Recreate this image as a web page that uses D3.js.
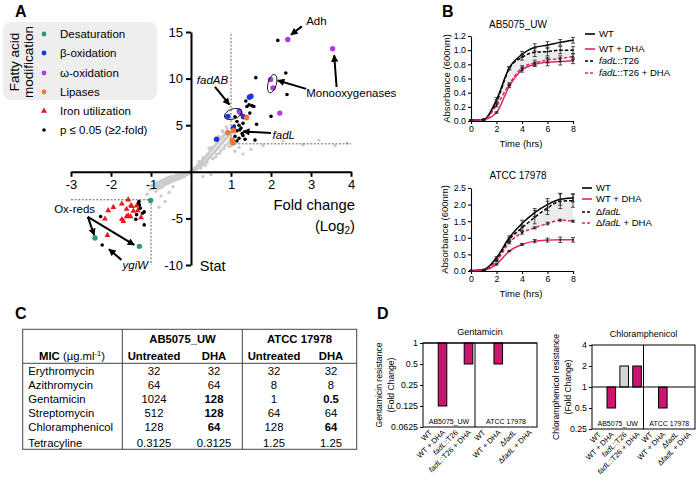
<!DOCTYPE html>
<html><head><meta charset="utf-8">
<script src="https://cdn.jsdelivr.net/npm/d3@7"></script>
<style>body{margin:0;background:#fff}svg{font-family:Arial,"Liberation Sans",sans-serif}</style>
</head><body><svg id="c" width="696" height="483"></svg>
<script>
// ================= Panel A data =================
const grayPts = [[-1.02,-1.9],[-0.98,-1.5],[-0.95,-1.8],[-0.93,-1.3],[-0.9,-1.6],[-0.88,-2.1],[-0.86,-1.2],[-0.84,-1.5],[-0.82,-1.8],[-0.8,-1.1],[-0.78,-1.4],[-0.76,-1.7],[-0.75,-1.0],[-0.73,-1.3],[-0.71,-1.6],[-0.7,-0.9],[-0.68,-1.2],[-0.66,-1.4],[-0.65,-0.8],[-0.63,-1.1],[-0.61,-1.3],[-0.6,-0.7],[-0.58,-1.0],[-0.56,-1.2],[-0.55,-0.6],[-0.53,-0.9],[-0.51,-1.1],[-0.5,-0.5],[-0.48,-0.8],[-0.46,-1.0],[-0.44,-0.5],[-0.42,-0.7],[-0.4,-0.9],[-0.38,-0.4],[-0.36,-0.6],[-0.34,-0.8],[-0.32,-0.3],[-0.3,-0.5],[-0.28,-0.7],[-0.26,-0.3],[-0.24,-0.45],[-0.22,-0.6],[-0.2,-0.2],[-0.18,-0.35],[-0.16,-0.5],[-0.14,-0.15],[-0.12,-0.3],[-0.1,-0.1],[-0.08,-0.25],[-0.06,-0.05],[-0.04,-0.15],[-0.02,0.0],
[-0.75,-2.6],[-0.65,-3.2],[-0.8,-3.8],[-0.55,-2.2],[-1.1,-2.4],[-0.45,-1.6],
[0.02,0.05],[0.04,0.2],[0.06,0.1],[0.08,0.35],[0.1,0.2],[0.12,0.5],[0.14,0.3],[0.16,0.65],[0.18,0.4],[0.2,0.8],[0.22,0.55],[0.24,1.0],[0.26,0.7],[0.28,1.2],[0.3,0.85],[0.32,1.4],[0.34,1.0],[0.36,1.6],[0.38,1.2],[0.4,1.8],[0.42,1.35],[0.44,2.0],[0.46,1.5],[0.48,2.2],[0.5,1.7],[0.52,2.4],[0.54,1.9],[0.56,2.6],[0.58,2.1],[0.6,2.8],[0.62,2.3],[0.64,3.0],[0.66,2.5],[0.68,3.2],[0.7,2.7],[0.72,3.4],[0.74,2.9],[0.76,3.6],[0.78,3.1],[0.8,3.8],[0.82,3.3],[0.84,4.0],[0.86,3.5],[0.88,4.2],[0.9,3.7],[0.92,4.4],[0.94,3.9],[0.96,3.2],[0.98,4.1],[1.0,3.6],[1.02,4.3],[0.3,1.5],[0.4,1.0],[0.5,2.6],[0.55,1.4],[0.6,3.4],[0.65,1.9],[0.7,3.8],[0.75,2.3],[0.8,4.3],[0.85,2.8],[0.9,4.6],[0.95,2.7],[0.2,1.1],[0.25,0.4],[0.35,0.7],[0.45,2.5],[0.62,1.6],[0.72,2.0],[0.82,2.5],[0.92,3.0],[1.0,2.8],[0.88,4.8],[0.78,4.4],
[1.2,2.6],[1.5,2.4],[1.8,2.8],[2.3,3.3],[2.8,2.9],[3.2,3.4],[3.6,2.8],[3.9,3.1],[1.1,2.2],[0.5,-0.3],[0.3,-0.5],[1.3,1.9]];
const sigPts = [[2.17,14.1],[2.37,10.6],[1.62,10.1],[2.4,8.3],[2.0,5.95],[1.64,5.1],[1.6,3.4],[1.37,7.6],[1.45,7.2],[1.52,7.1],[1.57,7.0],[1.4,7.0],[1.47,6.3],[1.4,5.9],[1.25,6.2],[1.1,5.9],[1.15,5.4],[1.3,5.2],[1.2,5.0],[1.25,4.7],[1.15,4.4],[1.28,4.1],[1.1,3.8],[1.2,3.6],[1.05,3.4],[1.15,3.3],[1.3,3.9],[1.35,3.5],[1.08,4.9],[1.22,4.5],
[-2.22,-7.85],[-2.26,-4.8],[-1.29,-3.55],[-1.27,-3.9],[-1.17,-4.3],[-1.21,-4.45],[-1.36,-4.6],[-1.38,-5.1],[-1.17,-5.7],[-1.3,-3.2],[-1.32,-3.4]];
const desatPts = [[-1.01,-3.08],[-2.4,-7.1],[-1.29,-8.0]];
const betaPts = [[1.46,8.0],[1.5,8.1],[0.92,5.95],[1.21,6.5],[1.31,5.9],[1.06,4.7],[0.64,3.5]];
const omegaPts = [[2.42,14.2],[3.54,13.2],[1.99,9.9],[2.05,9.0],[2.22,6.3],[1.22,6.4]];
const lipasePts = [[1.39,5.8],[1.06,4.4],[0.92,4.2],[1.03,3.4],[1.05,3.1]];
const ironPts = [[-1.57,-3.0],[-1.73,-3.44],[-1.94,-3.8],[-2.07,-4.15],[-2.15,-5.05],[-1.48,-3.7],[-1.44,-4.2],[-1.57,-4.7],[-1.61,-4.8],[-1.51,-4.8],[-1.36,-3.65],[-1.33,-4.15],[-2.09,-6.8],[-1.69,-5.3],[-1.73,-5.1],[-1.25,-4.9],[-1.5,-3.6],[-1.61,-4.0]];
const legendLabels = ["Desaturation","β-oxidation","ω-oxidation","Lipases","Iron utilization","p ≤ 0.05 (≥2-fold)"];
const xTicksA = [-3,-2,-1,1,2,3,4];
const yTicksA = [-10,-5,5,10,15];
const thresholds = [[[1,3],[1,15]],[[1,3],[4,3]],[[-3,-3],[-1,-3]],[[-1,-3],[-1,-10]]];

// ================= Panel B data =================
const times = [0,1,2,3,4,5,6,7,8];
const abWT       = [0.01,0.02,0.30,0.75,0.94,1.04,1.07,1.11,1.14];
const abWTerr    = [0.005,0.005,0.03,0.02,0.04,0.05,0.05,0.04,0.04];
const abWTDHA    = [0.01,0.02,0.12,0.49,0.72,0.80,0.83,0.84,0.85];
const abWTDHAerr = [0.005,0.005,0.01,0.02,0.03,0.03,0.05,0.05,0.04];
const abFad      = [0.01,0.02,0.27,0.74,0.90,0.97,0.98,1.00,1.00];
const abFaderr   = [0.005,0.005,0.03,0.02,0.04,0.06,0.06,0.05,0.05];
const abFadDHA   = [0.01,0.02,0.22,0.52,0.75,0.82,0.86,0.88,0.91];
const abFadDHAerr= [0.005,0.005,0.02,0.02,0.03,0.04,0.04,0.04,0.04];
const atWT       = [0.01,0.04,0.40,1.00,1.43,1.76,2.00,2.16,2.20];
const atWTerr    = [0.005,0.01,0.03,0.06,0.10,0.12,0.18,0.18,0.12];
const atWTDHA    = [0.01,0.03,0.20,0.60,0.80,0.90,0.93,0.94,0.94];
const atWTDHAerr = [0.005,0.01,0.02,0.02,0.03,0.05,0.06,0.08,0.07];
const atFad      = [0.01,0.03,0.33,0.95,1.30,1.62,1.90,2.10,2.12];
const atFaderr   = [0.005,0.01,0.03,0.05,0.08,0.20,0.20,0.22,0.20];
const atFadDHA   = [0.01,0.03,0.30,0.85,1.15,1.30,1.43,1.53,1.50];
const atFadDHAerr= [0.005,0.01,0.02,0.03,0.04,0.03,0.04,0.03,0.03];
const abLegend = ["WT","WT + DHA","fadL::T26","fadL::T26 + DHA"];
const atLegend = ["WT","WT + DHA","ΔfadL","ΔfadL + DHA"];
const abYTicks = [0,0.2,0.4,0.6,0.8,1.0,1.2];
const atYTicks = [0,0.5,1.0,1.5,2.0,2.5];
const timeTicks = [0,2,4,6,8];

// ================= Panel C data =================
const antibiotics = ["Erythromycin","Azithromycin","Gentamicin","Streptomycin","Chloramphenicol","Tetracyline"];
const micAbUntreated   = ["32","64","1024","512","128","0.3125"];
const micAbDHA         = ["32","64","128","128","64","0.3125"];
const micAtccUntreated = ["32","8","1","64","128","1.25"];
const micAtccDHA       = ["32","8","0.5","64","64","1.25"];

// ================= Panel D data =================
const dConditions = ["WT","WT + DHA","fadL::T26","fadL::T26 + DHA","WT","WT + DHA","ΔfadL","ΔfadL + DHA"];
const gentFold  = [1,0.125,1,0.5,1,0.5,1,1];
const chlorFold = [1,0.5,2,2,1,0.5,1,1];
const gentTicks = [1,0.5,0.25,0.125,0.0625];
const chlorTicks = [4,2,1,0.5,0.25];

// ================= drawing =================
const svg = d3.select("#c");
const defs = svg.append("defs");
defs.append("marker").attr("id","ah").attr("viewBox","0 0 10 10").attr("refX",9).attr("refY",5)
  .attr("markerWidth",4).attr("markerHeight",3.6).attr("orient","auto")
  .append("path").attr("d","M0,0L10,5L0,10z").attr("fill","#000");

function rich(sel, s){
  s.split(/(fadL|ygiW|fadAB)/).filter(p=>p.length).forEach(p=>{
    sel.append("tspan").attr("font-style", (p==="fadL"||p==="ygiW"||p==="fadAB")?"italic":null).text(p);
  });
}
function styleAxis(g, fs, sw){
  g.selectAll("path.domain").attr("stroke","#000").attr("stroke-width",sw);
  g.selectAll(".tick line").attr("stroke","#000").attr("stroke-width",sw);
  g.selectAll(".tick text").attr("fill","#000").attr("font-size",fs).attr("font-family",'Arial,"Liberation Sans",sans-serif');
}

// panel letters
[["A",15,17],["B",442,17],["C",15,319],["D",377,319]].forEach(([t,x,y])=>
  svg.append("text").attr("x",x).attr("y",y).attr("font-size",16).attr("font-weight","bold").text(t));

// ---------- Panel A ----------
const gA = svg.append("g");
const xA = d3.scaleLinear().domain([-3,4]).range([71,351]);
const yA = d3.scaleLinear().domain([-10,15]).range([265,32]);
const colDesat="#2f9a6c", colBeta="#1d33f0", colOmega="#b23be3", colLip="#f07a2c", colIron="#e51b1b";

// legend
gA.append("rect").attr("x",3).attr("y",22).attr("width",154).attr("height",78).attr("rx",8).attr("fill","#eeeeee");
const rotT = gA.append("g").attr("transform","translate(19,62) rotate(-90)");
rotT.append("text").attr("text-anchor","middle").attr("font-size",13.5).text("Fatty acid");
rotT.append("text").attr("text-anchor","middle").attr("y",14).attr("font-size",13.5).text("modification");
const legCols=[colDesat,colBeta,colOmega,colLip,colIron,"#000"];
const legY=[34,53,73,92,111,130];
legendLabels.forEach((l,i)=>{
  if(i===4){
    gA.append("path").attr("d",d3.symbol(d3.symbolTriangle,16)()).attr("transform",`translate(44,${legY[i]})`).attr("fill",colIron);
  } else {
    gA.append("circle").attr("cx",44).attr("cy",legY[i]).attr("r",i===5?1.8:2.4).attr("fill",legCols[i]);
  }
  gA.append("text").attr("x",60).attr("y",legY[i]+4).attr("font-size",11.5).text(l);
});

// gray cloud
gA.append("g").selectAll("circle").data(grayPts).join("circle")
  .attr("cx",d=>xA(d[0])).attr("cy",d=>yA(d[1])).attr("r",1.7).attr("fill","#cbcbcb");
// thresholds
gA.append("g").selectAll("line").data(thresholds).join("line")
  .attr("x1",d=>xA(d[0][0])).attr("y1",d=>yA(d[0][1])).attr("x2",d=>xA(d[1][0])).attr("y2",d=>yA(d[1][1]))
  .attr("stroke","#555").attr("stroke-width",0.9).attr("stroke-dasharray","2,1.6");
// axes
const axXA = gA.append("g").attr("transform",`translate(0,${yA(0)})`)
  .call(d3.axisBottom(xA).tickValues(xTicksA).tickSize(5).tickSizeOuter(0).tickPadding(3).tickFormat(d3.format("d")));
styleAxis(axXA,13,2);
const axYA = gA.append("g").attr("transform",`translate(${xA(0)},0)`)
  .call(d3.axisLeft(yA).tickValues(yTicksA).tickSize(5).tickSizeOuter(0).tickPadding(3).tickFormat(d3.format("d")));
styleAxis(axYA,13,2);
axXA.selectAll(".tick text").text(d=>d<0?"-"+Math.abs(d):d);
axYA.selectAll(".tick text").text(d=>d<0?"-"+Math.abs(d):d);

// points
gA.append("g").selectAll("circle").data(sigPts).join("circle")
  .attr("cx",d=>xA(d[0])).attr("cy",d=>yA(d[1])).attr("r",1.8).attr("fill","#000");
gA.append("g").selectAll("path").data(ironPts).join("path")
  .attr("d",d3.symbol(d3.symbolTriangle,15)()).attr("transform",d=>`translate(${xA(d[0])},${yA(d[1])})`).attr("fill",colIron);
[[desatPts,colDesat],[betaPts,colBeta],[omegaPts,colOmega],[lipasePts,colLip]].forEach(([pts,c])=>{
  gA.append("g").selectAll("circle").data(pts).join("circle")
    .attr("cx",d=>xA(d[0])).attr("cy",d=>yA(d[1])).attr("r",2.7).attr("fill",c);
});

// annotations (data coordinates)
const arrows = [[[2.77,15.6],[2.5,14.7]],[[2.88,8.9],[2.17,9.8]],[[3.64,9.1],[3.58,12.5]],[[0.6,9.1],[0.96,7.2]],
  [[2.0,4.15],[1.3,4.33]],[[-2.58,-4.84],[-2.42,-6.8]],[[-2.58,-4.84],[-1.42,-7.85]],[[-1.74,-9.45],[-2.05,-8.3]]];
gA.append("g").selectAll("line").data(arrows).join("line")
  .attr("x1",d=>xA(d[0][0])).attr("y1",d=>yA(d[0][1])).attr("x2",d=>xA(d[1][0])).attr("y2",d=>yA(d[1][1]))
  .attr("stroke","#000").attr("stroke-width",2).attr("marker-end","url(#ah)");
const annTexts = [["Adh",2.88,15.7,"start"],["Monooxygenases",2.88,8.05,"start"],["fadAB",0.93,9.4,"end"],
  ["fadL",2.04,3.55,"start"],["Ox-reds",-2.91,-4.4,"middle"],["ygiW",-1.71,-10.45,"start"]];
annTexts.forEach(([t,x,y,a])=>{
  const tx = gA.append("text").attr("x",xA(x)).attr("y",yA(y)).attr("text-anchor",a).attr("font-size",11.5);
  rich(tx,t);
});
gA.append("ellipse").attr("transform",`translate(${xA(2.03)},${yA(9.46)}) rotate(15)`).attr("rx",4.2).attr("ry",9.5)
  .attr("fill","none").attr("stroke","#000").attr("stroke-width",0.8);
gA.append("ellipse").attr("transform",`translate(${xA(1.05)},${yA(6.2)}) rotate(-20)`).attr("rx",9).attr("ry",5)
  .attr("fill","none").attr("stroke","#000").attr("stroke-width",0.8);
gA.append("text").attr("x",xA(4.1)).attr("y",yA(-4.1)).attr("text-anchor","end").attr("font-size",14.8).text("Fold change");
const lg = gA.append("text").attr("x",xA(4.1)).attr("y",yA(-6.3)).attr("text-anchor","end").attr("font-size",14.8);
lg.append("tspan").text("(Log");
lg.append("tspan").attr("font-size",10).attr("dy",3).text("2");
lg.append("tspan").attr("dy",-3).text(")");
gA.append("text").attr("x",xA(0.22)).attr("y",yA(-10.6)).attr("font-size",14.5).text("Stat");

// ---------- Panel B ----------
const pink = "#e3246f";
function growth(cfg){
  const g = svg.append("g");
  const x = d3.scaleLinear().domain([0,8]).range([471,573]);
  const y = d3.scaleLinear().domain([0,cfg.ymax]).range([cfg.yb,cfg.yt]);
  const S = cfg.series;
  g.append("path").datum(times.map((t,i)=>i))
    .attr("d",d3.area().x(i=>x(times[i])).y0(i=>y(S[3].v[i])).y1(i=>y(S[2].v[i])).curve(d3.curveMonotoneX))
    .attr("fill","#ececec");
  const ax = g.append("g").attr("transform",`translate(0,${cfg.yb})`)
    .call(d3.axisBottom(x).tickValues(timeTicks).tickSize(3).tickSizeOuter(0).tickPadding(2));
  styleAxis(ax,8.8,1.1);
  const ay = g.append("g").attr("transform",`translate(471,0)`)
    .call(d3.axisLeft(y).tickValues(cfg.yticks).tickSize(3).tickSizeOuter(0).tickPadding(2).tickFormat(d3.format(".1f")));
  styleAxis(ay,8.8,1.1);
  S.forEach(s=>{
    g.append("path").datum(times.map((t,i)=>i))
      .attr("d",d3.line().x(i=>x(times[i])).y(i=>y(s.v[i])).curve(d3.curveMonotoneX))
      .attr("fill","none").attr("stroke",s.c).attr("stroke-width",1.5).attr("stroke-dasharray",s.d?"3.5,2":null);
  });
  S.forEach(s=>{
    const eb = g.append("g");
    times.forEach((t,i)=>{
      const cx=x(t), y1=y(s.v[i]-s.e[i]), y2=y(s.v[i]+s.e[i]);
      eb.append("line").attr("x1",cx).attr("x2",cx).attr("y1",y1).attr("y2",y2).attr("stroke","#222").attr("stroke-width",0.8);
      eb.append("line").attr("x1",cx-2).attr("x2",cx+2).attr("y1",y1).attr("y2",y1).attr("stroke","#222").attr("stroke-width",0.8);
      eb.append("line").attr("x1",cx-2).attr("x2",cx+2).attr("y1",y2).attr("y2",y2).attr("stroke","#222").attr("stroke-width",0.8);
      eb.append("circle").attr("cx",cx).attr("cy",y(s.v[i])).attr("r",1.1).attr("fill","#222");
    });
  });
  g.append("text").attr("x",518).attr("y",cfg.titleY).attr("text-anchor","middle").attr("font-size",10).text(cfg.title);
  g.append("text").attr("transform",`translate(${cfg.ylabX},${(cfg.yb+cfg.yt)/2}) rotate(-90)`).attr("text-anchor","middle").attr("font-size",9.5).text("Absorbance (600nm)");
  g.append("text").attr("x",521).attr("y",cfg.xlabY).attr("text-anchor","middle").attr("font-size",9.5).text("Time (hrs)");
  cfg.legend.forEach((l,i)=>{
    const ly = cfg.legY[i];
    g.append("line").attr("x1",cfg.legX).attr("x2",cfg.legX+10).attr("y1",ly).attr("y2",ly)
      .attr("stroke",S[i].c).attr("stroke-width",1.6).attr("stroke-dasharray",S[i].d?"3,2":null);
    const t = g.append("text").attr("x",cfg.legX+14).attr("y",ly+3.4).attr("font-size",9.5);
    rich(t,l);
  });
}
growth({ymax:1.2, yb:121, yt:36, yticks:abYTicks, title:"AB5075_UW", titleY:28, ylabX:450, xlabY:146.5,
  legX:585, legY:[34,49,61,73], legend:abLegend,
  series:[{v:abWT,e:abWTerr,c:"#000",d:false},{v:abWTDHA,e:abWTDHAerr,c:pink,d:false},{v:abFad,e:abFaderr,c:"#000",d:true},{v:abFadDHA,e:abFadDHAerr,c:pink,d:true}]});
growth({ymax:2.5, yb:271, yt:188, yticks:atYTicks, title:"ATCC 17978", titleY:179, ylabX:448, xlabY:297,
  legX:582, legY:[188,199,212,223], legend:atLegend,
  series:[{v:atWT,e:atWTerr,c:"#000",d:false},{v:atWTDHA,e:atWTDHAerr,c:pink,d:false},{v:atFad,e:atFaderr,c:"#000",d:true},{v:atFadDHA,e:atFadDHAerr,c:pink,d:true}]});

// ---------- Panel C ----------
const gC = svg.append("g").attr("font-size",11.3);
const tL=22.7, tR=356.7, tT=329.3, tB=449.3;
gC.append("rect").attr("x",tL).attr("y",tT).attr("width",tR-tL).attr("height",tB-tT).attr("fill","none").attr("stroke","#444").attr("stroke-width",1);
[122.3,242.3].forEach(x=>gC.append("line").attr("x1",x).attr("x2",x).attr("y1",tT).attr("y2",tB).attr("stroke","#444"));
gC.append("line").attr("x1",tL).attr("x2",tR).attr("y1",363.3).attr("y2",363.3).attr("stroke","#444");
const colX=[154,214,274,331];
gC.append("text").attr("x",182.5).attr("y",342.5).attr("text-anchor","middle").attr("font-weight","bold").text("AB5075_UW");
gC.append("text").attr("x",299.5).attr("y",342.5).attr("text-anchor","middle").attr("font-weight","bold").text("ATCC 17978");
const mic = gC.append("text").attr("x",72).attr("y",360).attr("text-anchor","middle");
mic.append("tspan").attr("font-weight","bold").text("MIC ");
mic.append("tspan").text("(µg.ml");
mic.append("tspan").attr("font-size",7.5).attr("dy",-4).text("-1");
mic.append("tspan").attr("dy",4).text(")");
["Untreated","DHA","Untreated","DHA"].forEach((h,i)=>gC.append("text").attr("x",colX[i]).attr("y",360).attr("text-anchor","middle").attr("font-weight","bold").text(h));
const rowY=[374.7,389.3,403.3,417.3,431.3,446.7];
antibiotics.forEach((a,r)=>{
  gC.append("text").attr("x",28.3).attr("y",rowY[r]).text(a);
  const vals=[micAbUntreated[r],micAbDHA[r],micAtccUntreated[r],micAtccDHA[r]];
  vals.forEach((v,c)=>{
    const bold = (c===1 && v!==micAbUntreated[r]) || (c===3 && v!==micAtccUntreated[r]);
    gC.append("text").attr("x",colX[c]).attr("y",rowY[r]).attr("text-anchor","middle").attr("font-weight",bold?"bold":null).text(v);
  });
});

// ---------- Panel D ----------
const barPink="#cc1470", barGray="#d4d4d4";
function foldChart(cfg){
  const g = svg.append("g");
  const y = d3.scaleLog().base(2).domain(cfg.dom).range([cfg.yb,cfg.yt]);
  const mid = cfg.xd;
  const xl = d3.scaleBand().domain([0,1,2,3]).range([cfg.xl,mid]);
  const xr = d3.scaleBand().domain([4,5,6,7]).range([mid,cfg.xr]);
  const cx = i=> i<4 ? xl(i)+xl.bandwidth()/2 : xr(i)+xr.bandwidth()/2;
  const bw = 8.6;
  g.selectAll("rect.bar").data(cfg.vals.map((v,i)=>({v,i})).filter(d=>d.v!==1)).join("rect")
    .attr("x",d=>cx(d.i)-bw/2).attr("width",bw)
    .attr("y",d=>Math.min(y(1),y(d.v))).attr("height",d=>Math.abs(y(1)-y(d.v)))
    .attr("fill",d=>dConditions[d.i].includes("DHA")?barPink:barGray).attr("stroke","#000").attr("stroke-width",1);
  g.append("rect").attr("x",cfg.xl).attr("y",cfg.yt).attr("width",cfg.xr-cfg.xl).attr("height",cfg.yb-cfg.yt).attr("fill","none").attr("stroke","#000").attr("stroke-width",1);
  g.append("line").attr("x1",mid).attr("x2",mid).attr("y1",cfg.yt).attr("y2",cfg.yb).attr("stroke","#000");
  g.append("line").attr("x1",cfg.xl).attr("x2",cfg.xr).attr("y1",y(1)).attr("y2",y(1)).attr("stroke","#000");
  const ay = g.append("g").attr("transform",`translate(${cfg.xl},0)`)
    .call(d3.axisLeft(y).tickValues(cfg.ticks).tickSize(3).tickSizeOuter(0).tickPadding(2).tickFormat(d=>String(d)));
  styleAxis(ay,8.8,1);
  ay.select("path.domain").remove();
  g.append("text").attr("x",(cfg.xl+cfg.xr)/2).attr("y",cfg.yt-8).attr("text-anchor","middle").attr("font-size",9).text(cfg.title);
  g.append("text").attr("x",(cfg.xl+mid)/2).attr("y",cfg.yb-3).attr("text-anchor","middle").attr("font-size",7).text("AB5075_UW");
  g.append("text").attr("x",(mid+cfg.xr)/2).attr("y",cfg.yb-3).attr("text-anchor","middle").attr("font-size",7).text("ATCC 17978");
  dConditions.forEach((c,i)=>{
    const t = g.append("text").attr("transform",`translate(${cx(i)+3},${cfg.yb+6}) rotate(-45)`).attr("text-anchor","end").attr("font-size",7.5);
    rich(t,c);
  });
  const yl = g.append("g").attr("transform",`translate(${cfg.labX},${(cfg.yt+cfg.yb)/2}) rotate(-90)`);
  yl.append("text").attr("text-anchor","middle").attr("font-size",8.6).text(cfg.title+" resistance");
  yl.append("text").attr("text-anchor","middle").attr("y",12).attr("font-size",8.6).text("(Fold Change)");
}
foldChart({title:"Gentamicin", vals:gentFold, ticks:gentTicks, dom:[0.0625,1], yt:343, yb:427, xl:423, xd:475, xr:537, labX:382});
foldChart({title:"Chloramphenicol", vals:chlorFold, ticks:chlorTicks, dom:[0.25,4], yt:345, yb:429, xl:592, xd:643.5, xr:695, labX:558.5});
</script></body></html>
